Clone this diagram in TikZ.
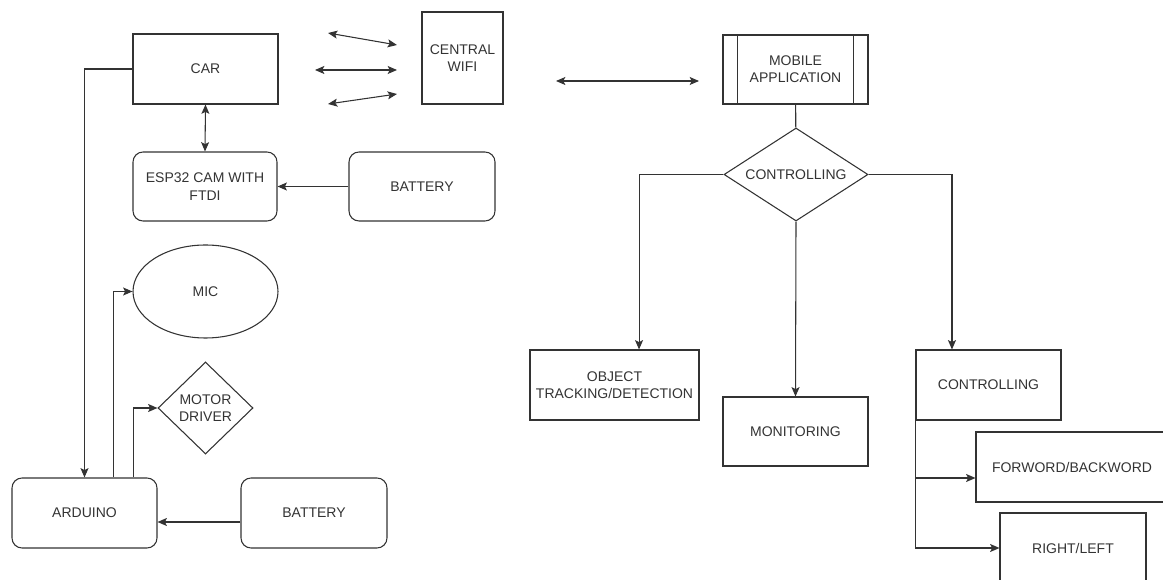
\documentclass[tikz,border=0pt]{standalone}
\usepackage{fontspec}
\setmainfont{Liberation Sans}
\usetikzlibrary{shapes.geometric,arrows.meta}
\definecolor{linegray}{HTML}{333333}

\begin{document}
\begin{tikzpicture}[%
      x=0.75pt, y=-0.75pt,
      font=\fontsize{10.5}{13}\selectfont,
      every node/.style={text=linegray, align=center},
      box/.style={draw=linegray, line width=0.8pt, inner sep=0pt},
      roundbox/.style={box, rounded corners=7.5pt},
      link/.style={draw=linegray, line width=0.8pt},
      conn/.style={link, -{Stealth[length=7pt,width=6pt,inset=1.5pt]}},
      both/.style={link, {Stealth[length=7pt,width=6pt,inset=1.5pt]}-{Stealth[length=7pt,width=6pt,inset=1.5pt]}},
      ]
      \useasboundingbox (0,0) rectangle (1163,580);

      \node[box, minimum width=108.75pt, minimum height=52.5pt] (car) at (205.5,69) {CAR};
      \node[box, minimum width=60.75pt, minimum height=69pt] (wifi) at (462.5,58) {CENTRAL\\WIFI};
      \node[box, minimum width=108.75pt, minimum height=51.75pt] (mobile) at (795.5,69.5) {MOBILE\\APPLICATION};
      \draw[link] ([xshift=11.25pt]mobile.north west) -- ([xshift=11.25pt]mobile.south west);
      \draw[link] ([xshift=-11.25pt]mobile.north east) -- ([xshift=-11.25pt]mobile.south east);
      \node[box, diamond, aspect=1.55, minimum width=108pt, minimum height=69.75pt] (ctrl) at (796,174.5) {CONTROLLING};

      \node[roundbox, minimum width=108pt, minimum height=51.75pt] (esp) at (205,186.5) {ESP32 CAM WITH\\FTDI};
      \node[roundbox, minimum width=109.5pt, minimum height=51.75pt] (battop) at (422,186.5) {BATTERY};
      \node[box, ellipse, minimum width=108.75pt, minimum height=69.75pt] (mic) at (205.5,291.5) {MIC};
      \node[box, diamond, minimum width=71.25pt, minimum height=69pt] (driver) at (205.5,408) {MOTOR\\DRIVER};
      \node[roundbox, minimum width=108.75pt, minimum height=52.5pt] (arduino) at (84.5,513) {ARDUINO};
      \node[roundbox, minimum width=109.5pt, minimum height=52.5pt] (batbot) at (314,513) {BATTERY};

      \node[box, minimum width=126.75pt, minimum height=52.5pt] (object) at (614.5,385) {OBJECT\\TRACKING/DETECTION};
      \node[box, minimum width=108.75pt, minimum height=51.75pt] (monitor) at (795.5,431.5) {MONITORING};
      \node[box, minimum width=108.75pt, minimum height=52.5pt] (control) at (988.5,385) {CONTROLLING};
      \node[box, minimum width=144pt, minimum height=52.5pt] (fwd) at (1072,467) {FORWORD/BACKWORD};
      \node[box, minimum width=109.5pt, minimum height=52.5pt] (turn) at (1073,548) {RIGHT/LEFT};

      \coordinate (w1a) at (328,33);
      \coordinate (w1b) at (397,45);
      \coordinate (w2a) at (315,70);
      \coordinate (w2b) at (397,70);
      \coordinate (w3a) at (328,104);
      \coordinate (w3b) at (397,94);
      \coordinate (m1a) at (556,81);
      \coordinate (m1b) at (699,81);
      \draw[both] (w1a) -- (w1b);
      \draw[both] (w2a) -- (w2b);
      \draw[both] (w3a) -- (w3b);
      \draw[both] (m1a) -- (m1b);

      \draw[both] (car.south) -- (esp.north);
      \draw[conn] (battop.west) -- (esp.east);
      \draw[conn] (car.west) -| (arduino.north);
      \draw[conn] ([xshift=21.4pt]arduino.north) |- (mic.west);
      \draw[conn] ([xshift=36.4pt]arduino.north) |- (driver.west);
      \draw[conn] ([yshift=-6.75pt]batbot.west) -- ([yshift=-6.75pt]arduino.east);

      \draw[link] (mobile) -- (ctrl);
      \draw[conn] (ctrl.west) -| ([xshift=18.4pt]object.north);
      \draw[conn] (ctrl.south) -- (monitor.north);
      \draw[conn] (ctrl.east) -| ([xshift=-27.4pt]control.north);
      \draw[conn] (control.south west) |- ([yshift=-8.25pt]fwd.west);
      \draw[conn] (control.south west) |- (turn.west);
      \end{tikzpicture}
\end{document}
